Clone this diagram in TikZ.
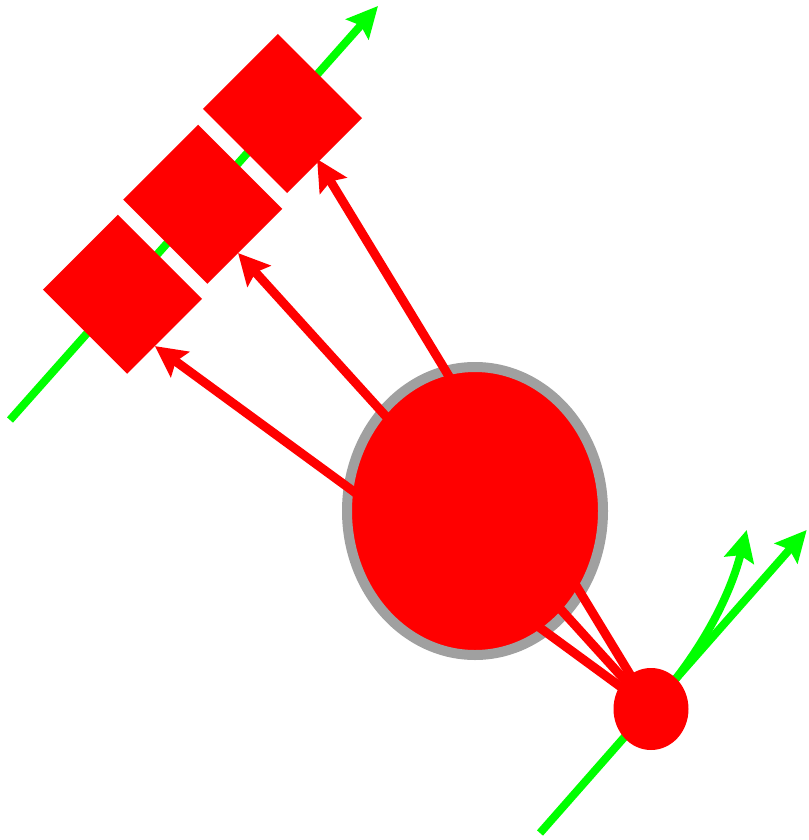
\documentclass[tikz,border=0pt]{standalone}
\usetikzlibrary{arrows.meta,shapes.geometric,calc}
\definecolor{cred}{HTML}{FF0000}
\definecolor{cgreen}{HTML}{00FF00}
\definecolor{cgray}{HTML}{A0A0A0}
\begin{document}
\begin{tikzpicture}[x=1pt,y=-1pt,
  sqbox/.style={rectangle, fill=cred, rotate=45, minimum width=106pt, minimum height=119pt, inner sep=0pt, outer sep=0pt},
  bigell/.style={ellipse, draw=cgray, line width=10pt, fill=cred, minimum width=256pt, minimum height=288pt, inner sep=0pt, outer sep=0pt},
  smallell/.style={ellipse, fill=cred, minimum width=75pt, minimum height=82pt, inner sep=0pt, outer sep=0pt},
  redarrow/.style={draw=cred, line width=9pt, -{Stealth[length=31pt,width=31pt,inset=5pt]}},
  greenarrow/.style={draw=cgreen, line width=8pt, -{Stealth[length=31pt,width=30pt,inset=5pt]}}]
\useasboundingbox (0,0) rectangle (808,840);
% top green axis
\coordinate (g1) at (10,420);
\coordinate (g2) at (378,6);
\draw[greenarrow] (g1) -- (g2);
% squares
\node[sqbox] (sq1) at (122.5,294.25) {};
\node[sqbox] (sq2) at (202.75,204.25) {};
\node[sqbox] (sq3) at (282.5,113.5) {};
% big ellipse
\node[bigell] (big) at (475,511) {};
% bottom green lines
\coordinate (gb1) at (540,833);
\coordinate (gb2) at (806.7,530);
\coordinate (gc) at (746.7,530);
\coordinate (sccen) at (651,709);
\draw[greenarrow] (gb1) -- (gb2);
\draw[greenarrow] (sccen) .. controls (705,648) and (731,592) .. (gc);
% red arrows
\draw[redarrow] (sccen) -- ($(sq1.south west)!0.37!(sq1.south east)$);
\draw[redarrow] (sccen) -- ($(sq2.south west)!0.41!(sq2.south east)$);
\draw[redarrow] (sccen) -- ($(sq3.south west)!0.4!(sq3.south east)+(0,-4)$);
% small circle
\node[smallell] (sc) at (sccen) {};
\end{tikzpicture}
\end{document}
